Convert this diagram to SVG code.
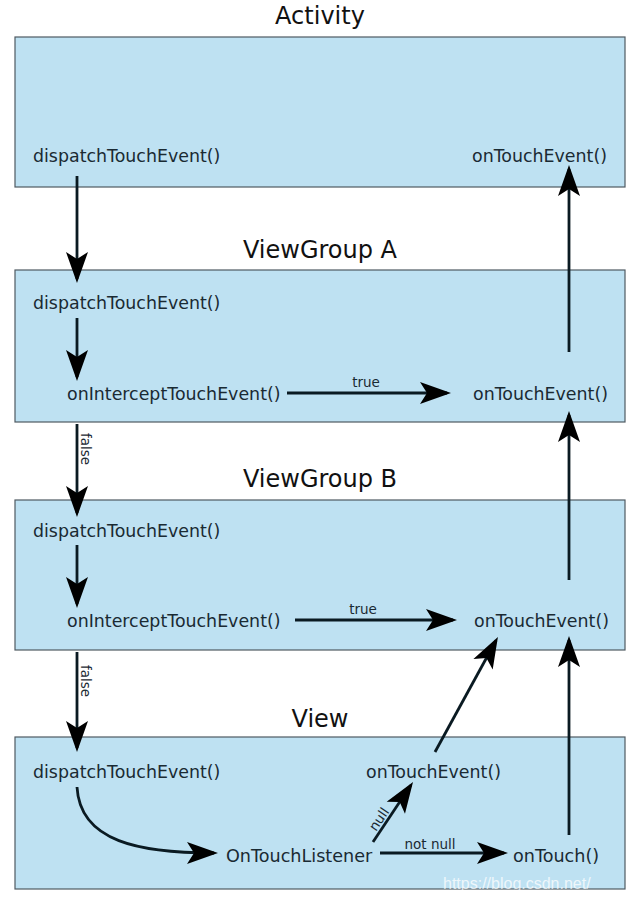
<svg xmlns="http://www.w3.org/2000/svg" width="640" height="902" viewBox="0 0 640 902">
<style>
.box{fill:#bee1f2;stroke:#4f5a62;stroke-width:1.2}
.title{font-family:"DejaVu Sans",sans-serif;font-size:24px;fill:#111;text-anchor:middle}
.fn{font-family:"DejaVu Sans",sans-serif;font-size:17.4px;fill:#1a2a33}
.lbl{font-family:"DejaVu Sans",sans-serif;font-size:13.5px;fill:#1a2a33}
.c{fill:none;stroke:#0a1a22;stroke-width:2.8}
.wm{font-family:"Liberation Sans",sans-serif;font-size:16px;fill:#ffffff;fill-opacity:0.75}
</style>
<defs>
<marker id="ah" viewBox="-32 -12 36 24" refX="-4" refY="0" markerWidth="36" markerHeight="24" markerUnits="userSpaceOnUse" orient="auto">
<path d="M0,0 L-31,-11 L-24,0 L-31,11 Z" fill="#000"/>
</marker>
</defs>
<rect width="640" height="902" fill="#fff"/>
<g id="activity">
<text class="title" x="320" y="24">Activity</text>
<rect class="box" x="15" y="37" width="610" height="150"/>
<text class="fn" x="33" y="162">dispatchTouchEvent()</text>
<text class="fn" x="472" y="162">onTouchEvent()</text>
</g>
<g id="viewgroupA">
<text class="title" x="320" y="258">ViewGroup A</text>
<rect class="box" x="15" y="270" width="610" height="152"/>
<text class="fn" x="33" y="309">dispatchTouchEvent()</text>
<text class="fn" x="67" y="400">onInterceptTouchEvent()</text>
<text class="fn" x="473" y="400">onTouchEvent()</text>
</g>
<g id="viewgroupB">
<text class="title" x="320" y="487">ViewGroup B</text>
<rect class="box" x="15" y="500" width="610" height="150"/>
<text class="fn" x="33" y="537">dispatchTouchEvent()</text>
<text class="fn" x="67" y="627">onInterceptTouchEvent()</text>
<text class="fn" x="474" y="627">onTouchEvent()</text>
</g>
<g id="view">
<text class="title" x="320" y="727">View</text>
<rect class="box" x="15" y="737" width="610" height="152"/>
<text class="fn" x="33" y="778">dispatchTouchEvent()</text>
<text class="fn" x="366" y="778">onTouchEvent()</text>
<text class="fn" x="226" y="862" style="font-size:17.6px">OnTouchListener</text>
<text class="fn" x="513" y="862" style="font-size:17.6px">onTouch()</text>
</g>
<g id="connectors">
<line class="c" x1="77" y1="176" x2="77" y2="279" marker-end="url(#ah)"/>
<line class="c" x1="77" y1="318" x2="77" y2="377" marker-end="url(#ah)"/>
<line class="c" x1="77" y1="424" x2="77" y2="513" marker-end="url(#ah)"/>
<text class="lbl" transform="translate(81,433) rotate(90)">false</text>
<line class="c" x1="77" y1="545" x2="77" y2="604" marker-end="url(#ah)"/>
<line class="c" x1="77" y1="652" x2="77" y2="748" marker-end="url(#ah)"/>
<text class="lbl" transform="translate(81,665) rotate(90)">false</text>
<line class="c" x1="569" y1="352" x2="569" y2="169" marker-end="url(#ah)"/>
<line class="c" x1="569" y1="580" x2="569" y2="415" marker-end="url(#ah)"/>
<line class="c" x1="569" y1="835" x2="569" y2="640" marker-end="url(#ah)"/>
<line class="c" x1="287" y1="393" x2="447" y2="393" marker-end="url(#ah)"/>
<text class="lbl" x="366" y="387" text-anchor="middle">true</text>
<line class="c" x1="295" y1="620" x2="453" y2="620" marker-end="url(#ah)"/>
<text class="lbl" x="363" y="614" text-anchor="middle">true</text>
<line class="c" x1="435" y1="752" x2="496" y2="640.5" marker-end="url(#ah)"/>
<path class="c" d="M77,787 C80,842 140,853 214,853" marker-end="url(#ah)"/>
<line class="c" x1="373" y1="842" x2="410.8" y2="785.3" marker-end="url(#ah)"/>
<text class="lbl" transform="translate(376,832) rotate(-56)">null</text>
<line class="c" x1="380" y1="853" x2="504" y2="853" marker-end="url(#ah)"/>
<text class="lbl" x="430" y="849" text-anchor="middle">not null</text>
</g>
<text class="wm" x="443" y="889">https://blog.csdn.net/</text>
</svg>
